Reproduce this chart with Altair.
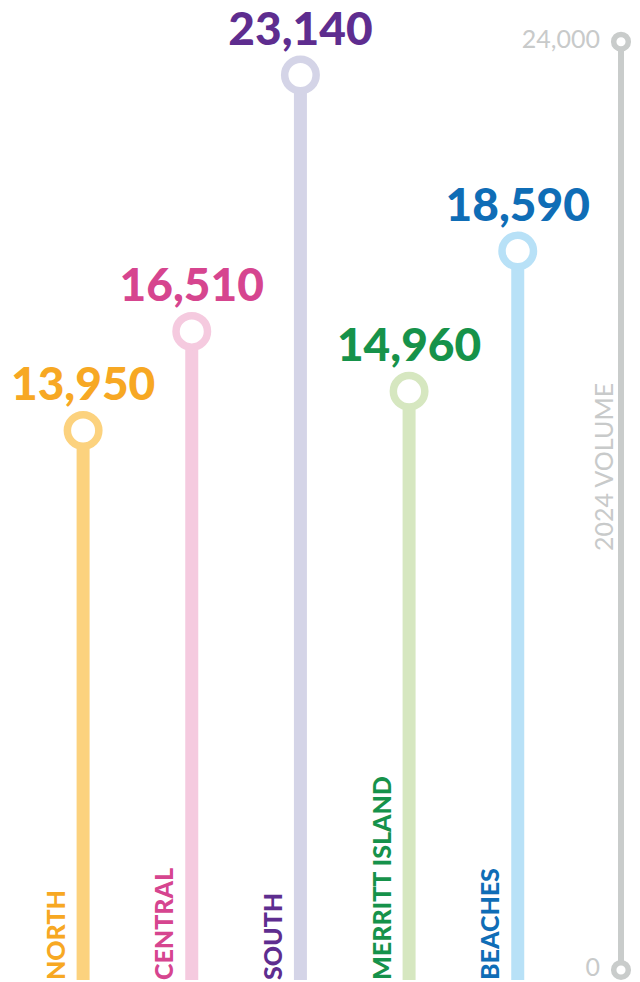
import altair as alt
import pandas as pd

categories = ["NORTH", "CENTRAL", "SOUTH", "MERRITT ISLAND", "BEACHES"]
values = [13950, 16510, 23140, 14960, 18590]
text_colors = ["#F7A823", "#D6458F", "#5E2D8F", "#16924A", "#0F6DB6"]
stem_colors = ["#FCD27E", "#F5CADF", "#D4D4E7", "#D6E7C0", "#B8E1F7"]

axis_ticks = [0, 24000]
axis_tick_labels = ["0", "24,000"]
axis_title = "2024 VOLUME"
axis_color = "#C9CCCB"
axis_label_color = "#C8CACA"

FONT = "Lato"
W, H = 624, 974
BOTTOM = 972
AXIS_X = 613

df = pd.DataFrame({
    "cat": categories,
    "value": values,
    "tcol": text_colors,
    "scol": stem_colors,
})
ax = pd.DataFrame({"value": axis_ticks, "label": axis_tick_labels})
ax_line = pd.DataFrame({"lo": [min(axis_ticks)], "hi": [max(axis_ticks)]})
ax_title = pd.DataFrame({"title": [axis_title]})

xscale = alt.Scale(domain=categories, type="point", padding=0.8713, align=0.3966, round=False)
yscale = alt.Scale(domain=[-311, 24871.3], nice=False, zero=False)

X = alt.X("cat:N", scale=xscale, axis=None)
Y = alt.Y("value:Q", scale=yscale, axis=None)

base = alt.Chart(df)

stems = base.mark_rule(strokeWidth=13, strokeCap="butt").encode(
    x=X, y=Y, y2=alt.value(BOTTOM), color=alt.Color("scol:N", scale=None)
)
heads = base.mark_point(shape="circle", filled=False, fill="white", fillOpacity=1,
                        strokeWidth=7.5, size=990, opacity=1).encode(
    x=X, y=Y, stroke=alt.Stroke("scol:N", scale=None)
)
vals = base.mark_text(font=FONT, fontWeight=900, fontSize=46, align="center",
                      baseline="alphabetic", dy=-30).encode(
    x=X, y=Y, text=alt.Text("value:Q", format=","), color=alt.Color("tcol:N", scale=None)
)
cats = base.mark_text(font=FONT, fontWeight=900, fontSize=25, angle=270, align="left",
                      baseline="alphabetic", dy=-18.5).encode(
    x=X, y=alt.value(BOTTOM), text="cat:N", color=alt.Color("tcol:N", scale=None)
)

aline = alt.Chart(ax_line).mark_rule(strokeWidth=6, color=axis_color).encode(
    x=alt.value(AXIS_X), y=alt.Y("lo:Q", scale=yscale, axis=None), y2="hi:Q"
)
acirc = alt.Chart(ax).mark_point(shape="circle", filled=False, fill="white", fillOpacity=1,
                                 stroke=axis_color, strokeWidth=5.5, size=214, opacity=1).encode(
    x=alt.value(AXIS_X), y=Y
)
alabels = alt.Chart(ax).mark_text(font=FONT, fontSize=25, align="right", baseline="middle",
                                  dx=-21, dy=-2, color=axis_label_color).encode(
    x=alt.value(AXIS_X), y=Y, text="label:N"
)
atitle = alt.Chart(ax_title).mark_text(font=FONT, fontSize=25, angle=270, align="center",
                                       baseline="alphabetic", dy=-8, color=axis_label_color).encode(
    x=alt.value(AXIS_X), y=alt.value(459), text="title:N"
)

chart = alt.layer(stems, heads, vals, cats, aline, acirc, alabels, atitle).properties(
    width=W, height=H, autosize=alt.AutoSizeParams(type="none"), padding=0
).configure_view(stroke=None)

chart.save("out.html", embed_options={"renderer": "svg", "actions": False})
